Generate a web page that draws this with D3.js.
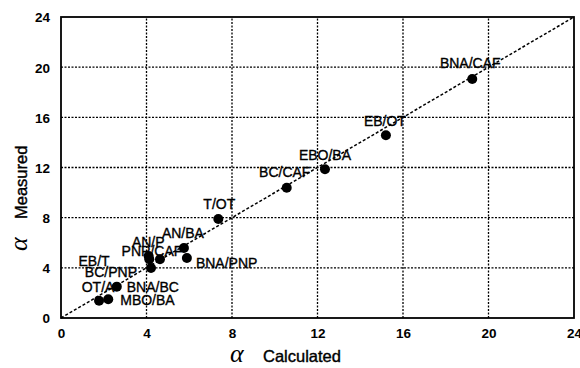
<!DOCTYPE html>
<html>
<head>
<meta charset="utf-8">
<script src="https://cdn.jsdelivr.net/npm/d3@7"></script>
<style>
  html, body { margin: 0; padding: 0; background: #fff; }
  svg { display: block; }
  .tick-label { font-family: "Liberation Sans", Arial, sans-serif; font-size: 13.5px; font-weight: bold; fill: #000; }
  .pt-label { font-family: "Liberation Sans", Arial, sans-serif; font-size: 14px; fill: #000; stroke: #000; stroke-width: 0.35px; }
  .title { font-family: "Liberation Sans", Arial, sans-serif; font-size: 16.5px; fill: #000; stroke: #000; stroke-width: 0.4px; }
  .alpha { font-family: "Liberation Serif", "DejaVu Serif", serif; font-style: italic; font-size: 26px; fill: #000; }
</style>
</head>
<body>
<svg id="chart" width="580" height="368"></svg>
<script>
// Solvent pairs: calculated vs measured separation factor
const pairs = ["OT/A", "MBO/BA", "BNA/BC", "BC/PNP", "EB/T", "AN/P", "PNP/CAF",
               "AN/BA", "BNA/PNP", "T/OT", "BC/CAF", "EBO/BA", "EB/OT", "BNA/CAF"];
const calculated = [1.78, 2.21, 2.61, 4.21, 4.10, 4.13, 4.63, 5.75, 5.89, 7.36, 10.56, 12.35, 15.20, 19.24];
const measured   = [1.38, 1.49, 2.50, 3.99, 4.95, 4.68, 4.68, 5.58, 4.78, 7.89, 10.39, 11.86, 14.57, 19.06];
const tickValues = [0, 4, 8, 12, 16, 20, 24];
const parity = [0, 24];

// Label placement relative to each point: [dx, dy, anchor]
const labelLayout = [
  [-1, -9, "middle"], [12, 6, "start"], [10, 5, "start"], [-14, 9, "end"],
  [-39, 10, "end"], [-1, -12, "middle"], [-8, -3, "middle"], [-1, -10, "middle"],
  [9, 10, "start"], [1, -10, "middle"], [-2, -11, "middle"], [0, -9, "middle"],
  [-1, -9, "middle"], [-2, -11, "middle"]
];

const svg = d3.select("#chart");
const x = d3.scaleLinear().domain([0, 24]).range([61, 574]);
const y = d3.scaleLinear().domain([0, 24]).range([318, 17]);

// dotted grid
const grid = svg.append("g").attr("stroke", "#000").attr("stroke-width", 1.3)
  .attr("stroke-dasharray", "2,1.5");
grid.selectAll("line.v").data(tickValues.slice(1, -1)).join("line")
  .attr("x1", d => x(d)).attr("x2", d => x(d)).attr("y1", y(0)).attr("y2", y(24));
grid.selectAll("line.h").data(tickValues.slice(1, -1)).join("line")
  .attr("y1", d => y(d)).attr("y2", d => y(d)).attr("x1", x(0)).attr("x2", x(24));

// y = x reference line
svg.append("line")
  .attr("x1", x(parity[0])).attr("y1", y(parity[0]))
  .attr("x2", x(parity[1])).attr("y2", y(parity[1]))
  .attr("stroke", "#000").attr("stroke-width", 1.5).attr("stroke-dasharray", "3,2");

// frame
svg.append("rect")
  .attr("x", x(0)).attr("y", y(24)).attr("width", x(24) - x(0)).attr("height", y(0) - y(24))
  .attr("fill", "none").attr("stroke", "#000").attr("stroke-width", 1.8);

// axes tick labels
const xAxis = d3.axisBottom(x).tickValues(tickValues).tickSize(0).tickPadding(0);
const gx = svg.append("g").attr("transform", `translate(0,${y(0)})`).call(xAxis);
gx.select(".domain").remove();
gx.selectAll("text").attr("class", "tick-label").attr("dy", null).attr("y", 20);

const yAxis = d3.axisLeft(y).tickValues(tickValues).tickSize(0).tickPadding(0);
const gy = svg.append("g").attr("transform", `translate(${x(0)},0)`).call(yAxis);
gy.select(".domain").remove();
gy.selectAll("text").attr("class", "tick-label").attr("x", -11).attr("dy", "0.36em");

// points
const data = pairs.map((p, i) => ({ name: p, cx: calculated[i], my: measured[i], lay: labelLayout[i] }));
svg.append("g").selectAll("circle").data(data).join("circle")
  .attr("cx", d => x(d.cx)).attr("cy", d => y(d.my)).attr("r", 5).attr("fill", "#000");

svg.append("g").selectAll("text").data(data).join("text")
  .attr("class", "pt-label")
  .attr("x", d => x(d.cx) + d.lay[0]).attr("y", d => y(d.my) + d.lay[1])
  .attr("text-anchor", d => d.lay[2])
  .text(d => d.name);

// axis titles
svg.append("text").attr("class", "alpha").attr("x", 230).attr("y", 362).text("α");
svg.append("text").attr("class", "title").attr("x", 263).attr("y", 362).text("Calculated");

const yt = svg.append("g").attr("transform", "translate(27,251) rotate(-90)");
yt.append("text").attr("class", "alpha").attr("x", 0).attr("y", 0).text("α");
yt.append("text").attr("class", "title").attr("x", 32).attr("y", 0).text("Measured");
</script>
</body>
</html>
